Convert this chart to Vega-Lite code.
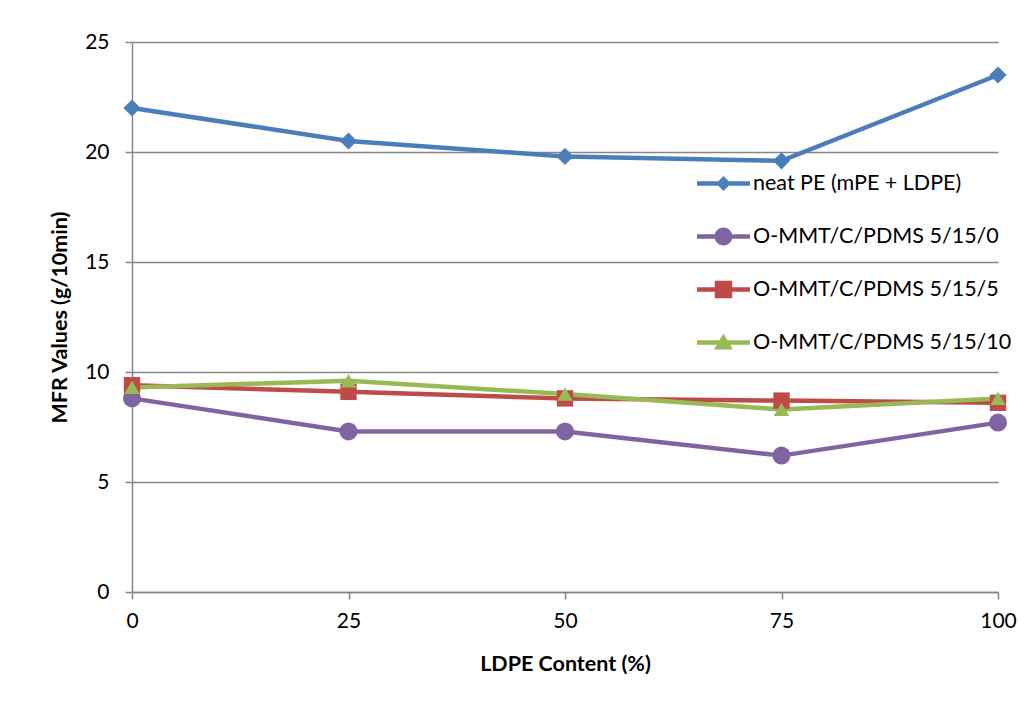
{
  "$schema": "https://vega.github.io/schema/vega-lite/v6.json",
  "autosize": "none",
  "width": 866,
  "height": 550,
  "padding": {"left": 132, "top": 42, "right": 31, "bottom": 122},
  "background": "white",
  "config": {
    "view": {"stroke": null},
    "font": "Lato",
    "axis": {
      "labelFont": "Lato",
      "titleFont": "Lato",
      "labelColor": "black",
      "titleColor": "black",
      "labelFontSize": 21,
      "titleFontSize": 21.5,
      "titleFontWeight": "bold",
      "domainColor": "#868686",
      "tickColor": "#868686",
      "gridColor": "#868686",
      "domainWidth": 1.5,
      "tickWidth": 1.5,
      "gridWidth": 1.3,
      "tickSize": 7,
      "labelFlush": false
    }
  },
  "data": {
    "values": [
      {"x": 0, "s": "neat PE (mPE + LDPE)", "v": 22.0},
      {"x": 25, "s": "neat PE (mPE + LDPE)", "v": 20.5},
      {"x": 50, "s": "neat PE (mPE + LDPE)", "v": 19.8},
      {"x": 75, "s": "neat PE (mPE + LDPE)", "v": 19.6},
      {"x": 100, "s": "neat PE (mPE + LDPE)", "v": 23.5},
      {"x": 0, "s": "O-MMT/C/PDMS 5/15/0", "v": 8.8},
      {"x": 25, "s": "O-MMT/C/PDMS 5/15/0", "v": 7.3},
      {"x": 50, "s": "O-MMT/C/PDMS 5/15/0", "v": 7.3},
      {"x": 75, "s": "O-MMT/C/PDMS 5/15/0", "v": 6.2},
      {"x": 100, "s": "O-MMT/C/PDMS 5/15/0", "v": 7.7},
      {"x": 0, "s": "O-MMT/C/PDMS 5/15/5", "v": 9.4},
      {"x": 25, "s": "O-MMT/C/PDMS 5/15/5", "v": 9.1},
      {"x": 50, "s": "O-MMT/C/PDMS 5/15/5", "v": 8.8},
      {"x": 75, "s": "O-MMT/C/PDMS 5/15/5", "v": 8.7},
      {"x": 100, "s": "O-MMT/C/PDMS 5/15/5", "v": 8.6},
      {"x": 0, "s": "O-MMT/C/PDMS 5/15/10", "v": 9.3},
      {"x": 25, "s": "O-MMT/C/PDMS 5/15/10", "v": 9.6},
      {"x": 50, "s": "O-MMT/C/PDMS 5/15/10", "v": 9.0},
      {"x": 75, "s": "O-MMT/C/PDMS 5/15/10", "v": 8.3},
      {"x": 100, "s": "O-MMT/C/PDMS 5/15/10", "v": 8.8}
    ]
  },
  "encoding": {
    "x": {
      "field": "x",
      "type": "quantitative",
      "scale": {"domain": [0, 100], "nice": false},
      "axis": {
        "title": "LDPE Content (%)",
        "values": [0, 25, 50, 75, 100],
        "grid": false,
        "labelPadding": 11,
        "titlePadding": 22
      }
    },
    "y": {
      "field": "v",
      "type": "quantitative",
      "scale": {"domain": [0, 25], "nice": false},
      "axis": {
        "title": "MFR Values (g/10min)",
        "values": [0, 5, 10, 15, 20, 25],
        "grid": true,
        "labelPadding": 16,
        "titlePadding": 13
      }
    },
    "color": {
      "field": "s",
      "type": "nominal",
      "scale": {
        "domain": ["neat PE (mPE + LDPE)", "O-MMT/C/PDMS 5/15/0", "O-MMT/C/PDMS 5/15/5", "O-MMT/C/PDMS 5/15/10"],
        "range": ["#4A7EBB", "#8064A2", "#BE4B48", "#98B954"]
      },
      "legend": {
        "orient": "none",
        "legendX": 565,
        "legendY": 115,
        "title": null,
        "padding": 0,
        "rowPadding": 16,
        "labelOffset": 3,
        "labelLimit": 0,
        "labelFont": "Lato",
        "labelFontSize": 21.5,
        "labelColor": "black",
        "symbolSize": 2809,
        "encoding": {
          "symbols": {
            "shape": {"value": {"expr": "datum.value === 'neat PE (mPE + LDPE)' ? 'M-1,-0.083H1V0.083H-1Z M0,-0.283L0.283,0L0,0.283L-0.283,0Z' : datum.value === 'O-MMT/C/PDMS 5/15/0' ? 'M-1,-0.083H1V0.083H-1Z M-0.34,0A0.34,0.34,0,1,1,0.34,0A0.34,0.34,0,1,1,-0.34,0Z' : datum.value === 'O-MMT/C/PDMS 5/15/5' ? 'M-1,-0.083H1V0.083H-1Z M-0.33,-0.33H0.33V0.33H-0.33Z' : 'M-1,-0.083H1V0.083H-1Z M0,-0.34L0.36,0.26L-0.36,0.26Z'"}},
            "size": {"value": 2809},
            "strokeWidth": {"value": 0},
            "opacity": {"value": 1},
            "fillOpacity": {"value": 1}
          }
        }
      }
    }
  },
  "layer": [
    {
      "mark": {"type": "line", "strokeWidth": 4.5},
      "encoding": {}
    },
    {
      "mark": {"type": "point", "filled": true, "opacity": 1},
      "encoding": {
        "shape": {
          "field": "s",
          "type": "nominal",
          "scale": {
            "domain": ["O-MMT/C/PDMS 5/15/10", "O-MMT/C/PDMS 5/15/5", "O-MMT/C/PDMS 5/15/0", "neat PE (mPE + LDPE)"],
            "range": ["triangle-up", "square", "circle", "diamond"]
          },
          "legend": null
        },
        "size": {
          "field": "s",
          "type": "nominal",
          "scale": {
            "domain": ["O-MMT/C/PDMS 5/15/0", "neat PE (mPE + LDPE)", "O-MMT/C/PDMS 5/15/5", "O-MMT/C/PDMS 5/15/10"],
            "range": [324, 240, 324, 340]
          },
          "legend": null
        }
      }
    }
  ]
}
